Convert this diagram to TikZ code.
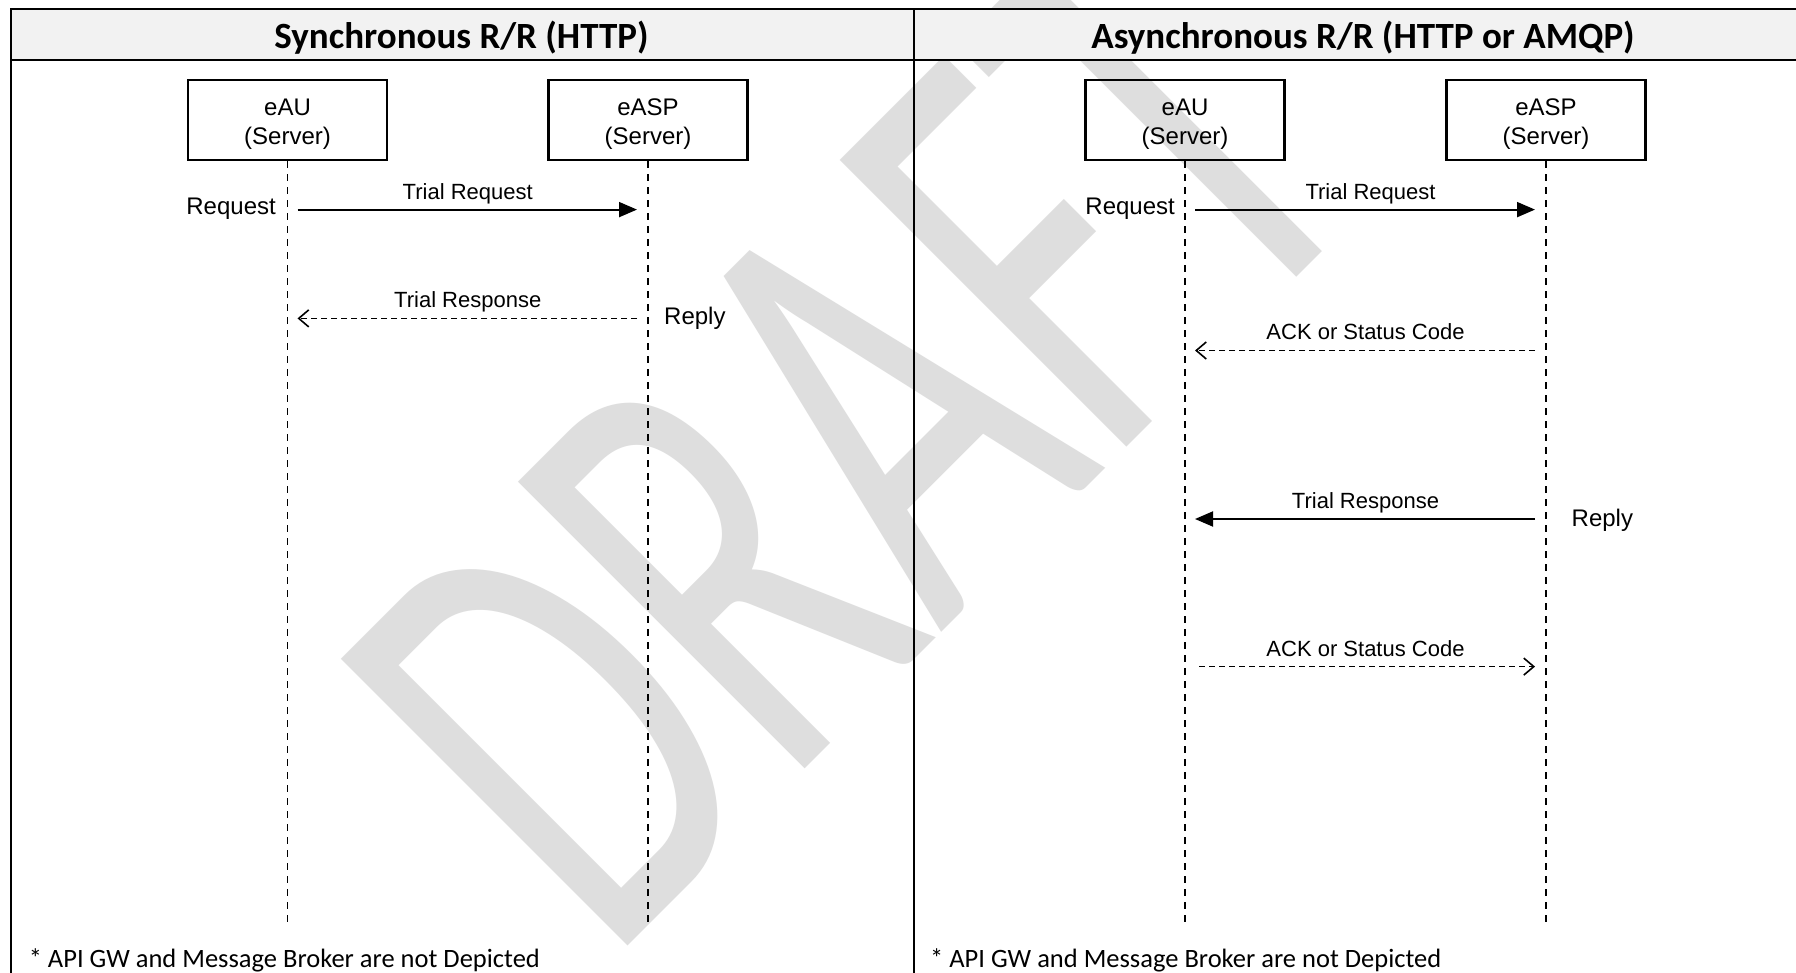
\documentclass[tikz,border=0pt]{standalone}
\usepackage{fontspec}
\setmainfont{Liberation Sans}
\newfontfamily\calibri{Carlito}
\usetikzlibrary{arrows.meta}

\definecolor{titlegray}{RGB}{242,242,242}
\definecolor{wmgray}{RGB}{222,222,222}

\begin{document}
\begin{tikzpicture}[x=1pt,y=-1pt,
    party/.style={draw,line width=2.2pt,minimum width=199pt,minimum height=80pt,inner sep=0pt},
    who/.style={yshift=-4pt,inner sep=0pt,align=center,font=\fontsize{24}{28.5}\selectfont},
    life/.style={line width=1.4pt,dash pattern=on 7pt off 6pt},
    call/.style={line width=1.9pt,shorten <=10pt,shorten >=11pt,
        -{Triangle[length=18pt,width=15pt]}},
    back/.style={line width=1.5pt,dash pattern=on 6pt off 4pt,shorten <=11pt,shorten >=10pt,
        -{Straight Barb[length=10pt,width=17pt,line width=1.6pt]}},
    lbl/.style={fill=white,inner sep=1.5pt,anchor=base,yshift=10.5pt,
        font=\fontsize{22}{22}\selectfont},
    side/.style={inner sep=0pt,font=\fontsize{24}{24}\selectfont},
    head/.style={font=\calibri\bfseries\fontsize{37}{37}\selectfont},
    note/.style={inner sep=0pt,anchor=base west,font=\calibri\fontsize{26.5}{26.5}\selectfont}]
    \useasboundingbox (0,0) rectangle (1796,973);
    \clip (0,0) rectangle (1796,973);
    \fill[white] (0,0) rectangle (1796,973);

    % watermark
    \node[text=wmgray,inner sep=0pt,anchor=base west,rotate=45,xscale=0.643,
        font=\calibri\fontsize{632}{632}\selectfont] (draft) at (608,966) {DRAFT};

    % table
    \fill[titlegray] (11,9) rectangle (1800,60);
    \draw[line width=2.5pt] (1800,9) -- (11,9) -- (11,980);
    \draw[line width=2.5pt] (11,60) -- (1800,60);
    \draw[line width=2.2pt] (914,9) -- (914,980);
    \node[head] (synchead) at (461.5,37.5) {Synchronous R/R (HTTP)};
    \node[head] (asynchead) at (1363,37.5) {Asynchronous R/R (HTTP or AMQP)};

    % parties and lifelines
    \node[party] (sau) at (287.5,120) {};
    \node[party] (sasp) at (648,120) {};
    \node[party] (aau) at (1185,120) {};
    \node[party] (aasp) at (1546,120) {};
    \node[who] (sau-txt) at (sau) {eAU\\(Server)};
    \node[who] (sasp-txt) at (sasp) {eASP\\(Server)};
    \node[who] (aau-txt) at (aau) {eAU\\(Server)};
    \node[who] (aasp-txt) at (aasp) {eASP\\(Server)};
    \foreach \p in {sau,sasp,aau,aasp} {
        \coordinate (\p-end) at (\p.south |- 0,922);
        \draw[life] (\p.south) -- (\p-end);
    }

    % synchronous
    \coordinate (sreq-a) at (sau.south |- 0,209.6);
    \coordinate (sreq-b) at (sasp.south |- 0,209.6);
    \coordinate (sres-a) at (sasp.south |- 0,318.4);
    \coordinate (sres-b) at (sau.south |- 0,318.4);
    \draw[call] (sreq-a) -- node[lbl] (sreqlbl) {Trial Request} (sreq-b);
    \draw[back] (sres-a) -- node[lbl] (sreslbl) {Trial Response} (sres-b);
    \node[side,anchor=base east] (sreqside) at (276,214.6) {Request};
    \node[side,anchor=base west] (sresside) at (664,324.6) {Reply};

    % asynchronous
    \coordinate (areq-a) at (aau.south |- 0,209.6);
    \coordinate (areq-b) at (aasp.south |- 0,209.6);
    \coordinate (aack-a) at (aasp.south |- 0,350.5);
    \coordinate (aack-b) at (aau.south |- 0,350.5);
    \coordinate (ares-a) at (aasp.south |- 0,519);
    \coordinate (ares-b) at (aau.south |- 0,519);
    \coordinate (aack2-a) at (aau.south |- 0,666.6);
    \coordinate (aack2-b) at (aasp.south |- 0,666.6);
    \draw[call] (areq-a) -- node[lbl,xshift=5pt] (areqlbl) {Trial Request} (areq-b);
    \draw[back] (aack-a) -- node[lbl] (aacklbl) {ACK or Status Code} (aack-b);
    \draw[call,shorten <=11pt,shorten >=10pt] (ares-a) -- node[lbl] (areslbl) {Trial Response} (ares-b);
    \draw[back,shorten <=14pt,shorten >=11pt] (aack2-a) -- node[lbl] (aack2lbl) {ACK or Status Code} (aack2-b);
    \node[side,anchor=base east] (areqside) at (1175,214.6) {Request};
    \node[side,anchor=base west] (aresside) at (1571.5,526.3) {Reply};

    % footnotes
    \node[note] (snote) at (28.6,967) {* API GW and Message Broker are not Depicted};
    \node[note] (anote) at (930,967) {* API GW and Message Broker are not Depicted};
\end{tikzpicture}
\end{document}
